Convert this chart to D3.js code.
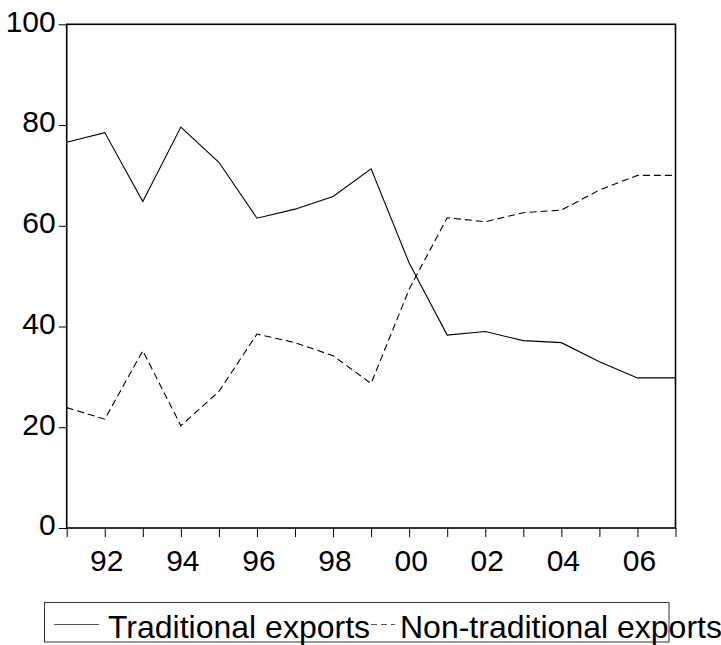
<!DOCTYPE html>
<html>
<head>
<meta charset="utf-8">
<script src="https://cdn.jsdelivr.net/npm/d3@7"></script>
<style>
  body { margin: 0; background: #fff; }
  text { font-family: "Liberation Sans", Arial, sans-serif; }
</style>
</head>
<body>
<div id="wrapper"></div>
<script>
// data (percent of total exports)
const years = [1991, 1992, 1993, 1994, 1995, 1996, 1997, 1998, 1999,
               2000, 2001, 2002, 2003, 2004, 2005, 2006, 2007];
const traditional = [76.6, 78.5, 64.8, 79.6, 72.6, 61.5, 63.3, 65.8, 71.3,
                     52.6, 38.3, 39.0, 37.2, 36.8, 33.0, 29.8, 29.8];
const nonTraditional = [23.9, 21.6, 35.2, 20.3, 27.1, 38.5, 36.8, 34.2, 28.7,
                        47.4, 61.6, 60.8, 62.6, 63.1, 67.1, 70.0, 70.0];
const yTicks = [0, 20, 40, 60, 80, 100];
const xLabelYears = [1992, 1994, 1996, 1998, 2000, 2002, 2004, 2006];
const seriesNames = ["Traditional exports", "Non-traditional exports"];

const dimensions = {
  width: 721,
  height: 645,
  margin: { top: 24.3, right: 45.5, bottom: 117, left: 66.7 },
};
dimensions.boundedWidth = dimensions.width - dimensions.margin.left - dimensions.margin.right;
dimensions.boundedHeight = dimensions.height - dimensions.margin.top - dimensions.margin.bottom;

const svg = d3.select("#wrapper")
  .append("svg")
  .attr("width", dimensions.width)
  .attr("height", dimensions.height);

const bounds = svg.append("g")
  .attr("transform", `translate(${dimensions.margin.left},${dimensions.margin.top})`);

// scales
const xScale = d3.scaleLinear()
  .domain([years[0], years[years.length - 1]])
  .range([0, dimensions.boundedWidth]);

const yScale = d3.scaleLinear()
  .domain([0, 100])
  .range([dimensions.boundedHeight, 0]);

// lines
const rows = years.map((y, i) => ({ year: y, trad: traditional[i], non: nonTraditional[i] }));

const tradLine = d3.line().x(d => xScale(d.year)).y(d => yScale(d.trad));
const nonLine = d3.line().x(d => xScale(d.year)).y(d => yScale(d.non));

bounds.append("path")
  .attr("d", tradLine(rows))
  .attr("fill", "none")
  .attr("stroke", "#000")
  .attr("stroke-width", 1.1);

bounds.append("path")
  .attr("d", nonLine(rows))
  .attr("fill", "none")
  .attr("stroke", "#000")
  .attr("stroke-width", 1.1)
  .attr("stroke-dasharray", "7,4");

// axes
const yAxis = bounds.append("g")
  .call(d3.axisLeft(yScale).tickValues(yTicks).tickSize(8).tickPadding(3));
yAxis.select(".domain").remove();
yAxis.selectAll("line").attr("stroke-width", 1);
yAxis.selectAll("text")
  .attr("font-size", 30)
  .attr("font-family", "Liberation Sans, Arial, sans-serif")
  .attr("fill", "#000")
  .attr("dy", "0.23em");

const xAxis = bounds.append("g")
  .attr("transform", `translate(0,${dimensions.boundedHeight})`)
  .call(d3.axisBottom(xScale)
    .tickValues(years)
    .tickSize(9)
    .tickPadding(13)
    .tickFormat(d => xLabelYears.includes(d) ? String(d).slice(2) : ""));
xAxis.select(".domain").remove();
xAxis.selectAll("line").attr("stroke-width", 1);
xAxis.selectAll("text")
  .attr("font-size", 30)
  .attr("font-family", "Liberation Sans, Arial, sans-serif")
  .attr("fill", "#000")
  .attr("dx", "0.05em");

// frame
bounds.append("rect")
  .attr("width", dimensions.boundedWidth)
  .attr("height", dimensions.boundedHeight)
  .attr("fill", "none")
  .attr("stroke", "#000")
  .attr("stroke-width", 1.6);

// legend
const legend = svg.append("g");
legend.append("rect")
  .attr("x", 44.5).attr("y", 602.5)
  .attr("width", 624.5).attr("height", 39.5)
  .attr("fill", "none")
  .attr("stroke", "#333")
  .attr("stroke-width", 1);

const legendItems = [
  { name: seriesNames[0], x1: 54, x2: 99, tx: 108, dash: null },
  { name: seriesNames[1], x1: 371, x2: 395, tx: 400, dash: "6,4" },
];
legendItems.forEach(item => {
  legend.append("line")
    .attr("x1", item.x1).attr("x2", item.x2)
    .attr("y1", 624.5).attr("y2", 624.5)
    .attr("stroke", "#555")
    .attr("stroke-width", 1)
    .attr("stroke-dasharray", item.dash);
  legend.append("text")
    .attr("x", item.tx).attr("y", 637.5)
    .attr("font-size", 32)
    .attr("fill", "#000")
    .text(item.name);
});
</script>
</body>
</html>
